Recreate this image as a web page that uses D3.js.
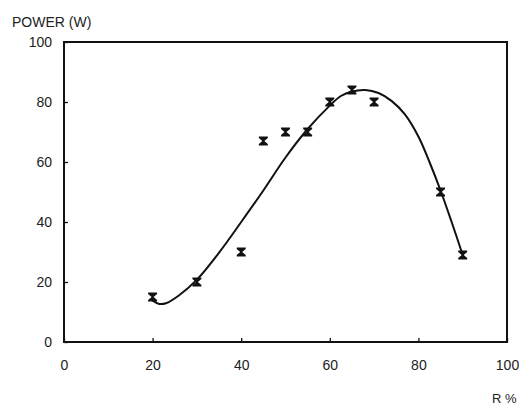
<!DOCTYPE html>
<html><head><meta charset="utf-8">
<script src="https://cdn.jsdelivr.net/npm/d3@7"></script>
<style>body{margin:0;background:#fff}svg{display:block}text{font-family:"Liberation Sans",Arial,sans-serif;fill:#222}</style>
</head><body><div id="chart"></div>
<script>
const pointX = [20, 30, 40, 45, 50, 55, 60, 65, 70, 85, 90];
const pointY = [15, 20, 30, 67, 70, 70, 80, 84, 80, 50, 29];
const curveX = [20, 21.5, 23, 26, 30, 35, 40, 45, 50, 55, 60, 62.5, 65, 68, 71, 74, 77, 80, 82.5, 85, 87.5, 90];
const curveY = [13.8, 12.7, 12.9, 15.6, 20.8, 29.8, 40, 50.5, 61.5, 71, 78.8, 82, 83.5, 84, 83, 80.3, 75.8, 68.5, 60, 50.5, 40, 29];
const xTicks = [0, 20, 40, 60, 80, 100];
const yTicks = [0, 20, 40, 60, 80, 100];
const yTitle = "POWER (W)";
const xTitle = "R %";

const W = 519, H = 406;
const svg = d3.select("#chart").append("svg").attr("width", W).attr("height", H);
const x = d3.scaleLinear().domain([0, 100]).range([64, 507]);
const y = d3.scaleLinear().domain([0, 100]).range([342, 42]);

// frame
svg.append("rect").attr("x", x(0)).attr("y", y(100)).attr("width", x(100) - x(0)).attr("height", y(0) - y(100))
  .attr("fill", "none").attr("stroke", "#111").attr("stroke-width", 2);

// x axis ticks (inward)
const xa = svg.append("g").attr("transform", `translate(0,${y(0)})`)
  .call(d3.axisBottom(x).tickValues(xTicks).tickSizeInner(-4).tickSizeOuter(0).tickPadding(18).tickFormat(d3.format("d")));
xa.select(".domain").remove();
xa.selectAll(".tick line").attr("stroke", "#111").attr("stroke-width", 1.3);
xa.selectAll(".tick text").attr("font-size", 14).attr("fill", "#222").style("font-family", '"Liberation Sans",Arial,sans-serif');

const ya = svg.append("g").attr("transform", `translate(${x(0)},0)`)
  .call(d3.axisLeft(y).tickValues(yTicks).tickSizeInner(-4).tickSizeOuter(0).tickPadding(12).tickFormat(d3.format("d")));
ya.select(".domain").remove();
ya.selectAll(".tick line").attr("stroke", "#111").attr("stroke-width", 1.3);
ya.selectAll(".tick text").attr("font-size", 14).attr("fill", "#222").style("font-family", '"Liberation Sans",Arial,sans-serif');

// titles
svg.append("text").attr("x", 12).attr("y", 27).attr("font-size", 14).text(yTitle);
svg.append("text").attr("x", 492).attr("y", 403).attr("font-size", 13).text(xTitle);

// curve
const curveData = curveX.map((d, i) => [d, curveY[i]]);
svg.append("path").datum(curveData)
  .attr("d", d3.line().x(d => x(d[0])).y(d => y(d[1])).curve(d3.curveCatmullRom.alpha(0.5)))
  .attr("fill", "none").attr("stroke", "#111").attr("stroke-width", 2);

// markers (hourglass error-bar symbols)
const marker = "M-4.5,-4.5L4.5,-4.5L4.5,-3L1,0L4.5,3L4.5,4.5L-4.5,4.5L-4.5,3L-1,0L-4.5,-3Z";
svg.append("g").selectAll("path").data(pointX.map((d, i) => [d, pointY[i]])).join("path")
  .attr("transform", d => `translate(${x(d[0])},${y(d[1])})`)
  .attr("d", marker).attr("fill", "#111");
</script></body></html>
